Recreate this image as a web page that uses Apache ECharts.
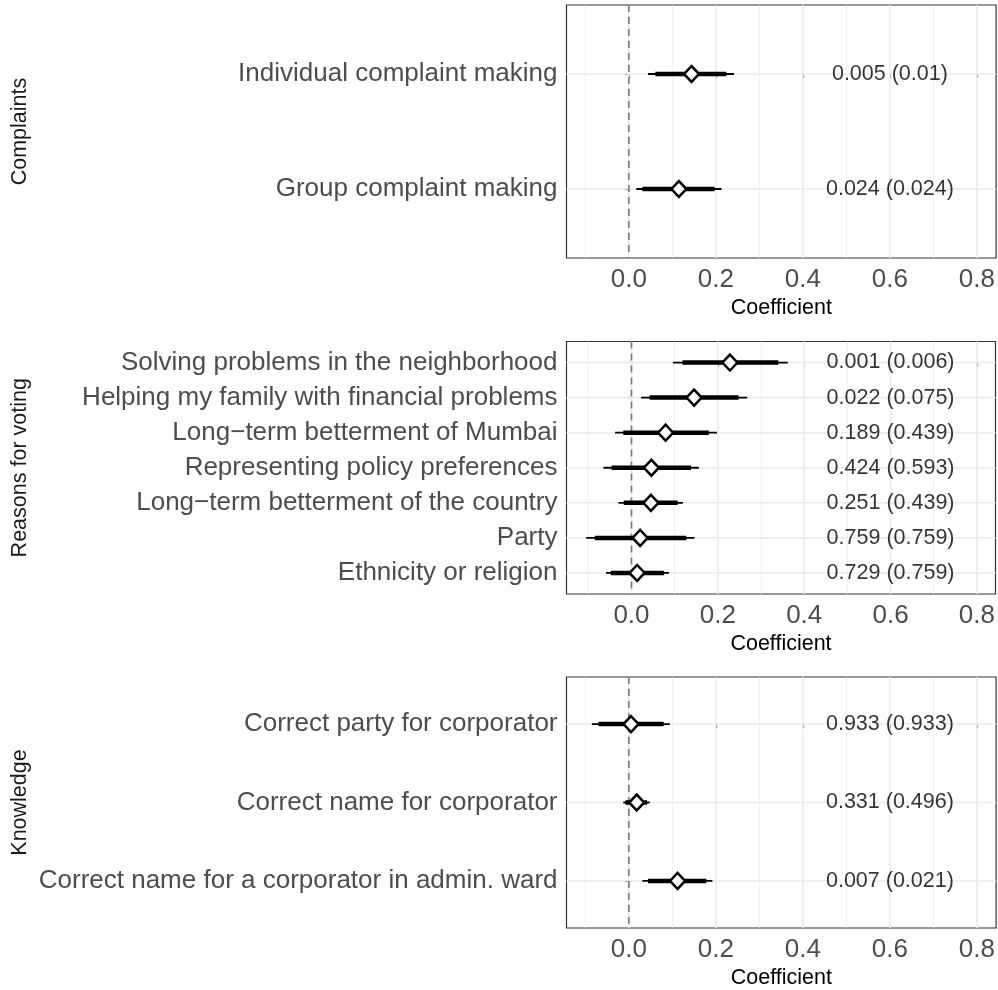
<!DOCTYPE html>
<html>
<head>
<meta charset="utf-8">
<script src="https://cdn.jsdelivr.net/npm/echarts@6/dist/echarts.min.js"></script>
<style>html,body{margin:0;padding:0;background:#fff;}#chart{width:998px;height:990px;}</style>
</head>
<body>
<div id="chart"></div>
<script>
// ---------- data ----------
const facetNames = ['Complaints', 'Reasons for voting', 'Knowledge'];

const complaintsLabels = ['Individual complaint making', 'Group complaint making'];
const complaintsEst  = [0.144, 0.115];
const complaintsLo95 = [0.044, 0.017];
const complaintsHi95 = [0.242, 0.213];
const complaintsLo90 = [0.061, 0.031];
const complaintsHi90 = [0.224, 0.197];
const complaintsText = ['0.005 (0.01)', '0.024 (0.024)'];

const votingLabels = ['Solving problems in the neighborhood', 'Helping my family with financial problems',
  'Long\u2212term betterment of Mumbai', 'Representing policy preferences',
  'Long\u2212term betterment of the country', 'Party', 'Ethnicity or religion'];
const votingEst  = [0.228, 0.145, 0.079, 0.046, 0.045, 0.020, 0.013];
const votingLo95 = [0.096, 0.022, -0.038, -0.065, -0.030, -0.105, -0.059];
const votingHi95 = [0.362, 0.268, 0.198, 0.156, 0.119, 0.146, 0.087];
const votingLo90 = [0.118, 0.042, -0.019, -0.046, -0.018, -0.085, -0.048];
const votingHi90 = [0.340, 0.248, 0.179, 0.138, 0.107, 0.127, 0.075];
const votingText = ['0.001 (0.006)', '0.022 (0.075)', '0.189 (0.439)', '0.424 (0.593)',
  '0.251 (0.439)', '0.759 (0.759)', '0.729 (0.759)'];

const knowledgeLabels = ['Correct party for corporator', 'Correct name for corporator',
  'Correct name for a corporator in admin. ward'];
const knowledgeEst  = [0.005, 0.018, 0.112];
const knowledgeLo95 = [-0.085, -0.013, 0.031];
const knowledgeHi95 = [0.094, 0.048, 0.192];
const knowledgeLo90 = [-0.070, -0.008, 0.044];
const knowledgeHi90 = [0.080, 0.042, 0.178];
const knowledgeText = ['0.933 (0.933)', '0.331 (0.496)', '0.007 (0.021)'];

const xMajorTicks = [0, 0.2, 0.4, 0.6, 0.8];
const xMinorTicks = [-0.1, 0.1, 0.3, 0.5, 0.7];
const refLineX = 0;
const textX = 0.6;
const xAxisTitle = 'Coefficient';

// ---------- layout ----------
const panelData = [
  {labels: complaintsLabels, est: complaintsEst, lo95: complaintsLo95, hi95: complaintsHi95, lo90: complaintsLo90, hi90: complaintsHi90, text: complaintsText},
  {labels: votingLabels, est: votingEst, lo95: votingLo95, hi95: votingHi95, lo90: votingLo90, hi90: votingHi90, text: votingText},
  {labels: knowledgeLabels, est: knowledgeEst, lo95: knowledgeLo95, hi95: knowledgeHi95, lo90: knowledgeLo90, hi90: knowledgeHi90, text: knowledgeText}
];
const layout = [
  {top: 5, height: 253, xMin: -0.1433, xMax: 0.844},
  {top: 341.5, height: 252.5, xMin: -0.1505, xMax: 0.843},
  {top: 677, height: 252, xMin: -0.1433, xMax: 0.844}
];
const FONT = 'Liberation Sans, Arial, Helvetica, sans-serif';
const LEFT = 566.5, RIGHT = 1;

const grids = [], xAxes = [], yAxes = [], series = [];

panelData.forEach((pd, i) => {
  const L = layout[i];
  const n = pd.labels.length;
  const idx = pd.labels.map((_, k) => k);
  grids.push({left: LEFT, right: RIGHT, top: L.top, height: L.height, show: true,
    backgroundColor: '#fff', borderColor: '#333333', borderWidth: 1.2, containLabel: false});
  xAxes.push({
    gridIndex: i, type: 'value', min: L.xMin, max: L.xMax,
    axisLine: {show: false}, splitLine: {show: false},
    axisTick: {show: true, customValues: xMajorTicks, length: 4, lineStyle: {color: '#333333', width: 1.2}},
    axisLabel: {show: true, customValues: xMajorTicks, formatter: v => Number(v).toFixed(1),
      fontSize: 26, color: '#4d4d4d', margin: 9, fontFamily: FONT},
    name: xAxisTitle, nameLocation: 'middle', nameGap: 39,
    nameTextStyle: {fontSize: 21.5, color: '#000', fontFamily: FONT}
  });
  yAxes.push({
    gridIndex: i, type: 'value', inverse: true, min: -0.6, max: n - 0.4,
    axisLine: {show: false}, splitLine: {show: false},
    axisTick: {show: true, customValues: idx, length: 4, lineStyle: {color: '#333333', width: 1.2}},
    axisLabel: {show: true, customValues: idx, formatter: v => pd.labels[Math.round(v)] || '',
      fontSize: 26, color: '#4d4d4d', margin: 9, fontFamily: FONT},
    name: facetNames[i], nameLocation: 'middle', nameRotate: 90, nameGap: 535,
    nameTextStyle: {fontSize: 21.5, color: '#1a1a1a', fontFamily: FONT}
  });

  // background grid lines + reference line
  series.push({
    type: 'custom', xAxisIndex: i, yAxisIndex: i, silent: true, z: 1,
    data: [[0, 0]],
    renderItem: (params, api) => {
      const cs = params.coordSys;
      const ch = [];
      xMinorTicks.forEach(v => {
        const p = api.coord([v, 0]);
        ch.push({type: 'line', shape: {x1: p[0], y1: cs.y, x2: p[0], y2: cs.y + cs.height},
          style: {stroke: '#ebebeb', lineWidth: 0.8}});
      });
      xMajorTicks.forEach(v => {
        const p = api.coord([v, 0]);
        ch.push({type: 'line', shape: {x1: p[0], y1: cs.y, x2: p[0], y2: cs.y + cs.height},
          style: {stroke: '#ebebeb', lineWidth: 1.6}});
      });
      idx.forEach(k => {
        const p = api.coord([0, k]);
        ch.push({type: 'line', shape: {x1: cs.x, y1: p[1], x2: cs.x + cs.width, y2: p[1]},
          style: {stroke: '#ebebeb', lineWidth: 1.6}});
      });
      const r = api.coord([refLineX, 0]);
      ch.push({type: 'line', shape: {x1: r[0], y1: cs.y, x2: r[0], y2: cs.y + cs.height},
        style: {stroke: '#7f7f7f', lineWidth: 1.7, lineDash: [7, 5]}});
      return {type: 'group', children: ch};
    }
  });

  // confidence intervals
  series.push({
    type: 'custom', xAxisIndex: i, yAxisIndex: i, silent: true, z: 2,
    encode: {x: [0, 1, 2, 3], y: 4},
    data: idx.map(k => [pd.lo95[k], pd.hi95[k], pd.lo90[k], pd.hi90[k], k]),
    renderItem: (params, api) => {
      const y = api.value(4);
      const a = api.coord([api.value(0), y]);
      const b = api.coord([api.value(1), y]);
      const c = api.coord([api.value(2), y]);
      const d = api.coord([api.value(3), y]);
      return {type: 'group', children: [
        {type: 'line', shape: {x1: a[0], y1: a[1], x2: b[0], y2: b[1]}, style: {stroke: '#000', lineWidth: 1.8}},
        {type: 'line', shape: {x1: c[0], y1: c[1], x2: d[0], y2: d[1]}, style: {stroke: '#000', lineWidth: 4.5}}
      ]};
    }
  });

  // point estimates
  series.push({
    type: 'scatter', xAxisIndex: i, yAxisIndex: i, z: 3, silent: true,
    symbol: 'diamond', symbolSize: [15, 16],
    itemStyle: {color: '#fff', borderColor: '#000', borderWidth: 2.5, opacity: 1},
    data: idx.map(k => [pd.est[k], k])
  });

  // p-value text
  series.push({
    type: 'scatter', xAxisIndex: i, yAxisIndex: i, z: 4, silent: true,
    symbolSize: 0, itemStyle: {color: 'transparent'},
    label: {show: true, position: 'inside', formatter: p => pd.text[p.dataIndex],
      fontSize: 21.5, color: '#000', textBorderWidth: 0, textBorderColor: 'transparent', fontFamily: FONT},
    data: idx.map(k => [textX, k])
  });
});

const chart = echarts.init(document.getElementById('chart'), null, {renderer: 'canvas'});
chart.setOption({
  animation: false,
  backgroundColor: '#fff',
  grid: grids, xAxis: xAxes, yAxis: yAxes, series: series
});
</script>
</body>
</html>
